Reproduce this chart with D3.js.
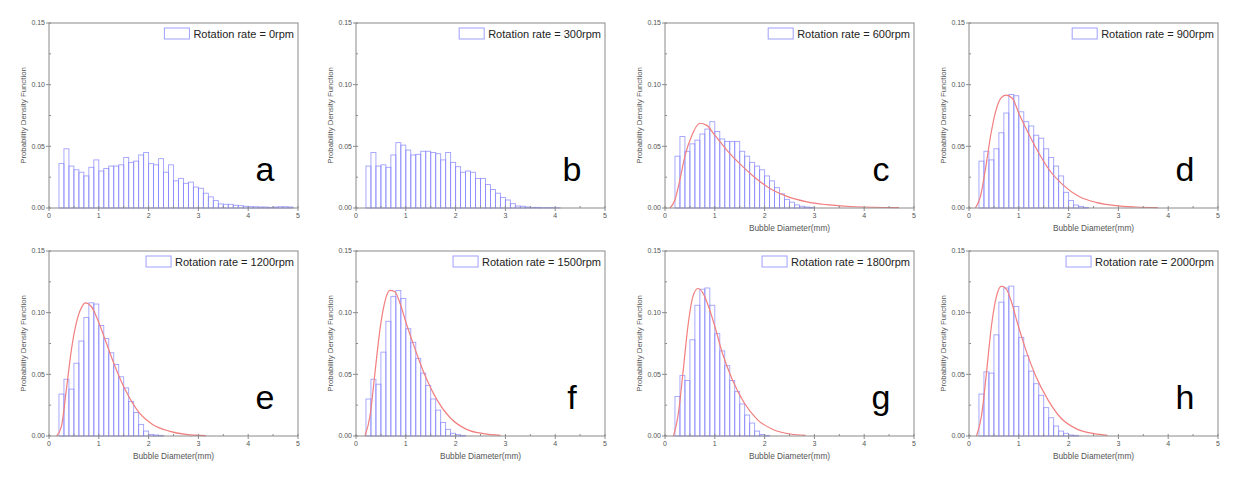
<!DOCTYPE html>
<html>
<head>
<meta charset="utf-8">
<script src="https://cdn.jsdelivr.net/npm/d3@7/dist/d3.min.js"></script>
<style>
body{margin:0;background:#fff;}
text{font-family:"Liberation Sans",Arial,sans-serif;}
</style>
</head>
<body>
<script>
// bubble size histograms, bins of 0.1 mm starting at 0.2 mm
var binStart = 0.2, binWidth = 0.1;

var letters = ["a","b","c","d","e","f","g","h"];
var rates = ["0rpm","300rpm","600rpm","900rpm","1200rpm","1500rpm","1800rpm","2000rpm"];
var xTicks = [0,1,2,3,4,5];
var yTicks = [0,0.05,0.10,0.15];

var barsA = [0.036,0.048,0.034,0.031,0.029,0.026,0.033,0.039,0.030,0.032,0.034,0.034,0.035,0.041,0.037,0.038,0.043,0.045,0.036,0.035,0.040,0.029,0.035,0.022,0.024,0.020,0.021,0.017,0.016,0.012,0.009,0.006,0.0033,0.003,0.003,0.0022,0.0019,0.0014,0.0011,0.001,0.0008,0.0008,0.0005,0.0008,0.001,0.001,0.0008];
var barsB = [0.034,0.045,0.034,0.035,0.033,0.043,0.053,0.051,0.047,0.043,0.0435,0.046,0.046,0.045,0.044,0.039,0.045,0.037,0.0335,0.029,0.030,0.029,0.024,0.024,0.019,0.015,0.012,0.0086,0.0065,0.0035,0.0016,0.0014,0.0008,0.0005,0.0005,0.0003,0.0003,0.0003,0.0002];
var barsC = [0.042,0.058,0.046,0.052,0.055,0.060,0.064,0.070,0.062,0.056,0.054,0.054,0.054,0.046,0.042,0.037,0.034,0.031,0.026,0.022,0.0165,0.0115,0.007,0.0047,0.0025,0.0014,0.0008,0.0005];
var barsD = [0.038,0.046,0.039,0.048,0.061,0.077,0.092,0.091,0.078,0.070,0.0665,0.059,0.0566,0.048,0.041,0.034,0.026,0.0127,0.006,0.0024,0.0013,0.0005];
var barsE = [0.034,0.046,0.038,0.059,0.077,0.096,0.108,0.107,0.0896,0.079,0.0675,0.058,0.048,0.039,0.028,0.019,0.0094,0.004,0.0013,0.0008,0.0005];
var barsF = [0.030,0.046,0.042,0.068,0.093,0.113,0.118,0.1115,0.087,0.076,0.063,0.051,0.041,0.030,0.021,0.011,0.0054,0.0022,0.0011,0.0005];
var barsG = [0.032,0.049,0.045,0.078,0.106,0.119,0.120,0.106,0.083,0.069,0.057,0.045,0.036,0.026,0.017,0.0105,0.004,0.0012,0.0005];
var barsH = [0.034,0.052,0.051,0.082,0.1085,0.120,0.1215,0.105,0.080,0.065,0.0526,0.0424,0.033,0.023,0.0148,0.0081,0.004,0.0022,0.0008,0.0005];

// lognormal fit curves [diameter, pdf]
var fitC = [[0.1,0],[0.2,0.0067],[0.3,0.023],[0.4,0.042],[0.54,0.059],[0.7,0.0687],[0.84,0.067],[1.0,0.059],[1.24,0.047],[1.5,0.036],[1.78,0.0256],[2.1,0.016],[2.45,0.0094],[2.85,0.005],[3.25,0.0027],[3.8,0.001],[4.7,0.0003]];
var fitD = [[0.13,0],[0.23,0.0094],[0.34,0.034],[0.44,0.06],[0.54,0.079],[0.64,0.089],[0.74,0.0916],[0.87,0.089],[1.0,0.0768],[1.2,0.06],[1.41,0.044],[1.61,0.031],[1.88,0.019],[2.21,0.0094],[2.55,0.0046],[2.95,0.0019],[3.35,0.0008],[3.79,0.0003]];
var fitE = [[0.15,0],[0.25,0.008],[0.35,0.038],[0.45,0.070],[0.55,0.092],[0.65,0.104],[0.73,0.108],[0.85,0.105],[0.98,0.094],[1.15,0.0756],[1.35,0.054],[1.55,0.036],[1.81,0.0189],[2.08,0.0094],[2.41,0.004],[2.75,0.0013],[3.15,0.0003]];
var fitF = [[0.18,0],[0.28,0.016],[0.38,0.051],[0.48,0.086],[0.58,0.109],[0.68,0.118],[0.78,0.117],[0.88,0.108],[1.02,0.090],[1.19,0.070],[1.39,0.0486],[1.62,0.0297],[1.89,0.0148],[2.22,0.0054],[2.56,0.0019],[2.9,0.0005]];
var fitG = [[0.17,0],[0.26,0.016],[0.36,0.051],[0.46,0.089],[0.56,0.113],[0.66,0.1196],[0.76,0.116],[0.86,0.1066],[1.0,0.089],[1.15,0.0675],[1.35,0.0459],[1.59,0.027],[1.85,0.0135],[2.19,0.0049],[2.52,0.0016],[2.82,0.0005]];
var fitH = [[0.15,0],[0.25,0.016],[0.35,0.051],[0.45,0.089],[0.55,0.113],[0.65,0.1215],[0.75,0.119],[0.85,0.109],[0.97,0.092],[1.14,0.070],[1.34,0.0486],[1.58,0.0297],[1.84,0.0148],[2.18,0.0054],[2.51,0.0019],[2.78,0.0005]];

var allBars = [barsA,barsB,barsC,barsD,barsE,barsF,barsG,barsH];
var allFits = [null,null,fitC,fitD,fitE,fitF,fitG,fitH];
var showXLabel = [false,false,true,true,true,true,true,true];

// layout
var colLeft = [49, 356, 665, 969];
var rowTop = [23, 251];
var pw = 249, ph = 185;
var gray = "#555";

var svg = d3.select("body").append("svg")
    .attr("width", 1239)
    .attr("height", 484);

function drawPanel(p) {
  var px0 = colLeft[p % 4], py0 = rowTop[Math.floor(p / 4)];
  var g = svg.append("g").attr("transform", "translate(" + px0 + "," + py0 + ")");

  var x = d3.scaleLinear().domain([0, 5]).range([0, pw]);
  var y = d3.scaleLinear().domain([0, 0.15]).range([ph, 0]);

  // bars
  g.selectAll("rect.bar").data(allBars[p]).enter().append("rect")
      .attr("class", "bar")
      .attr("x", function(d, i){ return x(binStart + i * binWidth); })
      .attr("y", function(d){ return y(d); })
      .attr("width", x(binWidth) - x(0))
      .attr("height", function(d){ return y(0) - y(d); })
      .attr("fill", "none")
      .attr("stroke", "#8080ff")
      .attr("stroke-opacity", 0.75)
      .attr("stroke-width", 0.9);

  // fit curve
  if (allFits[p]) {
    var line = d3.line()
        .x(function(d){ return x(d[0]); })
        .y(function(d){ return y(d[1]); })
        .curve(d3.curveMonotoneX);
    g.append("path").datum(allFits[p])
        .attr("d", line)
        .attr("fill", "none")
        .attr("stroke", "#f27e7e")
        .attr("stroke-width", 1.2);
  }

  // frame
  g.append("rect").attr("x", 0).attr("y", 0).attr("width", pw).attr("height", ph)
      .attr("fill", "none").attr("stroke", "#8a8a8a").attr("stroke-width", 1);

  // y axis ticks
  var yMinor = d3.range(0, 0.1501, 0.025);
  g.selectAll("line.ym").data(yMinor).enter().append("line")
      .attr("x1", 0).attr("x2", 2)
      .attr("y1", function(d){ return y(d); }).attr("y2", function(d){ return y(d); })
      .attr("stroke", "#8a8a8a");
  g.selectAll("line.yt").data(yTicks).enter().append("line")
      .attr("x1", -3).attr("x2", 0)
      .attr("y1", function(d){ return y(d); }).attr("y2", function(d){ return y(d); })
      .attr("stroke", "#8a8a8a");
  g.selectAll("text.yl").data(yTicks).enter().append("text")
      .attr("x", -4).attr("y", function(d){ return y(d); })
      .attr("dy", "0.35em")
      .attr("text-anchor", "end")
      .attr("font-size", 7)
      .attr("fill", gray)
      .text(function(d){ return d3.format(".2f")(d); });

  // x axis ticks
  var xMinor = d3.range(0, 5.01, 0.5);
  g.selectAll("line.xm").data(xMinor).enter().append("line")
      .attr("x1", function(d){ return x(d); }).attr("x2", function(d){ return x(d); })
      .attr("y1", ph).attr("y2", ph - 2)
      .attr("stroke", "#8a8a8a");
  g.selectAll("line.xt").data(xTicks).enter().append("line")
      .attr("x1", function(d){ return x(d); }).attr("x2", function(d){ return x(d); })
      .attr("y1", ph).attr("y2", ph + 3)
      .attr("stroke", "#8a8a8a");
  g.selectAll("text.xl").data(xTicks).enter().append("text")
      .attr("x", function(d){ return x(d); }).attr("y", ph + 10)
      .attr("text-anchor", "middle")
      .attr("font-size", 7)
      .attr("fill", gray)
      .text(function(d){ return d; });

  // axis titles
  g.append("text")
      .attr("transform", "translate(-23," + (ph / 2) + ") rotate(-90)")
      .attr("text-anchor", "middle")
      .attr("font-size", 7.8)
      .attr("fill", gray)
      .text("Probability Density Function");
  if (showXLabel[p]) {
    g.append("text")
        .attr("x", pw / 2).attr("y", ph + 23)
        .attr("text-anchor", "middle")
        .attr("font-size", 8.3)
        .attr("fill", gray)
        .text("Bubble Diameter(mm)");
  }

  // legend
  var lt = g.append("text")
      .attr("x", pw - 4).attr("y", 14.5)
      .attr("text-anchor", "end")
      .attr("font-size", 11)
      .attr("fill", "#222")
      .text("Rotation rate = " + rates[p]);
  var tw = lt.node().getComputedTextLength();
  g.append("rect")
      .attr("x", pw - 4 - tw - 29).attr("y", 5)
      .attr("width", 25).attr("height", 11)
      .attr("fill", "none")
      .attr("stroke", "#8080ff")
      .attr("stroke-opacity", 0.75);

  // panel letter
  g.append("text")
      .attr("x", 216).attr("y", 158)
      .attr("text-anchor", "middle")
      .attr("font-size", 34)
      .attr("fill", "#000")
      .text(letters[p]);
}

for (var p = 0; p < 8; p++) drawPanel(p);
</script>
</body>
</html>
